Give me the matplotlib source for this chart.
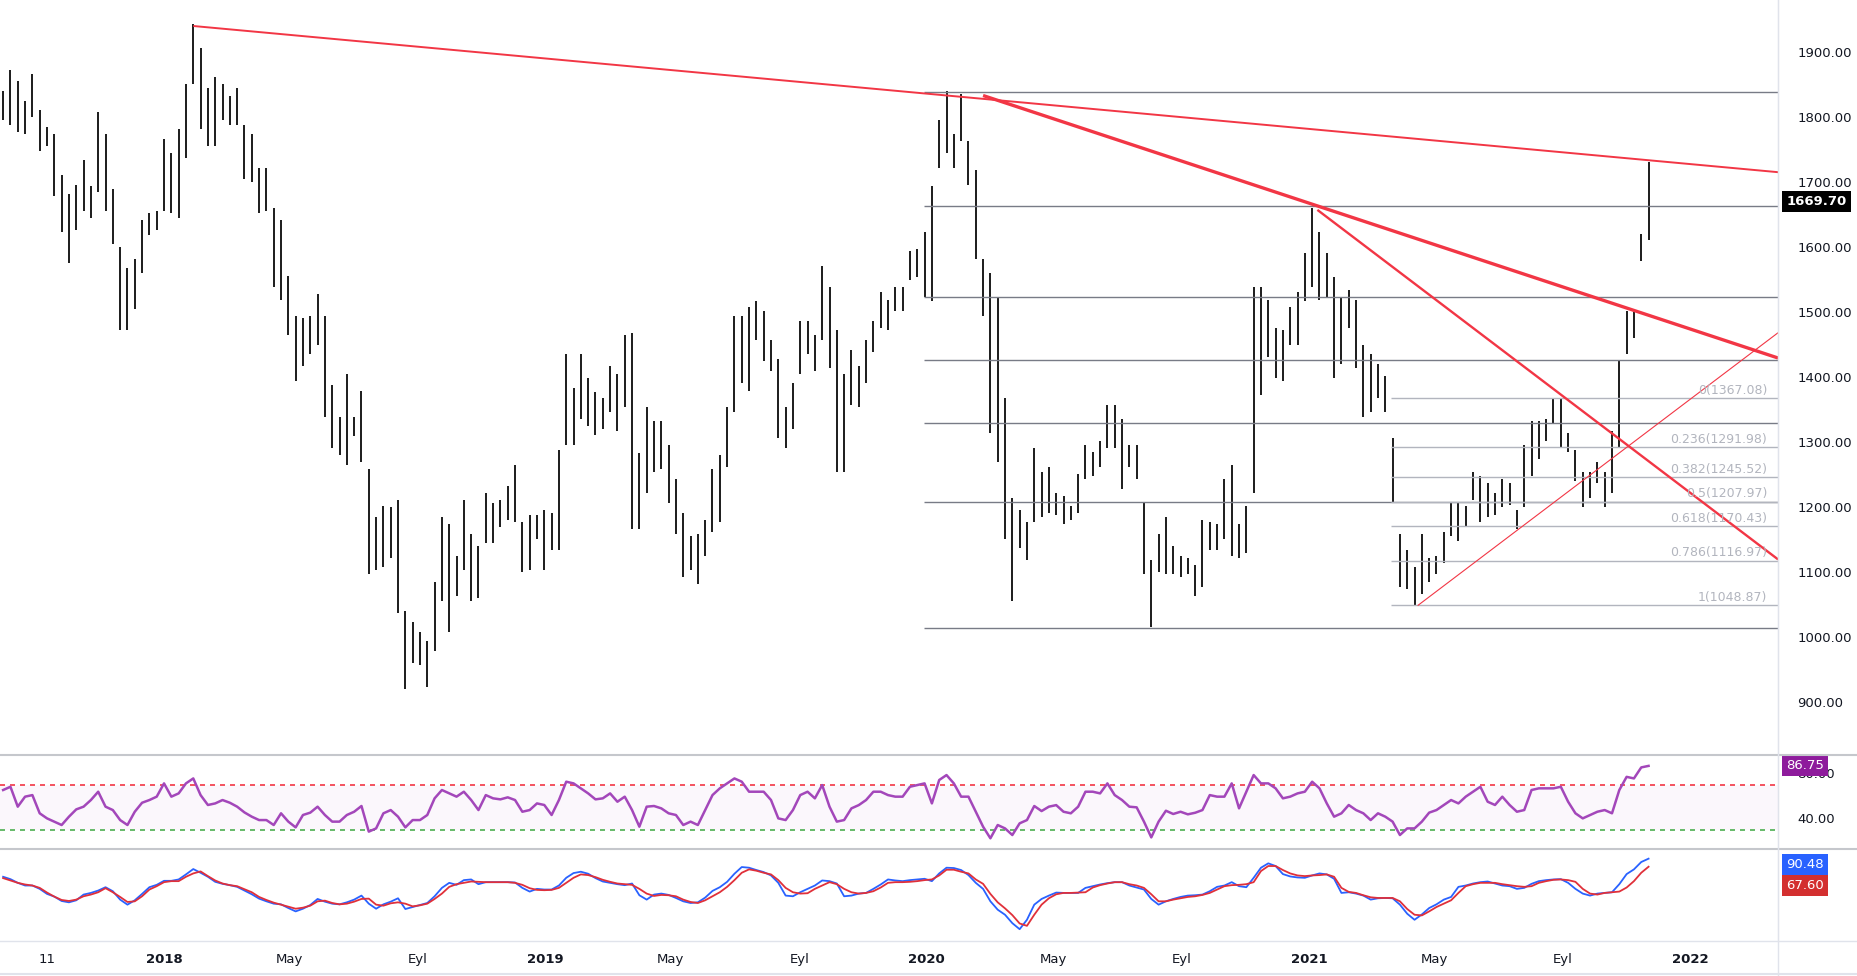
import matplotlib
matplotlib.use("Agg")
import matplotlib.pyplot as plt
import matplotlib.transforms as mtransforms
from matplotlib.lines import Line2D
from matplotlib.ticker import FuncFormatter
import pandas as pd

# weekly bars, first week starts 2017-07-31
weekStart = "2017-07-31"

highs = [1840, 1873, 1855, 1825, 1866, 1810, 1785, 1774, 1711, 1681,
         1696, 1733, 1693, 1807, 1774, 1689, 1600, 1567, 1582, 1641,
         1652, 1656, 1766, 1744, 1781, 1851, 1943, 1906, 1844, 1862,
         1851, 1833, 1844, 1788, 1774, 1722, 1722, 1660, 1641, 1556,
         1494, 1490, 1494, 1527, 1494, 1387, 1339, 1405, 1339, 1379,
         1258, 1184, 1202, 1199, 1210, 1040, 1022, 1007, 993, 1085,
         1184, 1173, 1125, 1210, 1158, 1140, 1221, 1206, 1210, 1232,
         1265, 1177, 1188, 1188, 1195, 1191, 1287, 1435, 1383, 1435,
         1398, 1376, 1368, 1416, 1405, 1464, 1468, 1283, 1354, 1332,
         1332, 1295, 1243, 1191, 1155, 1158, 1180, 1258, 1280, 1354,
         1494, 1494, 1508, 1516, 1501, 1457, 1427, 1354, 1390, 1486,
         1486, 1464, 1571, 1538, 1472, 1405, 1442, 1416, 1457, 1486,
         1531, 1519, 1538, 1538, 1593, 1597, 1623, 1693, 1796, 1840,
         1774, 1836, 1763, 1718, 1582, 1560, 1523, 1368, 1214, 1195,
         1177, 1291, 1254, 1262, 1221, 1217, 1202, 1250, 1295, 1284,
         1302, 1357, 1357, 1335, 1295, 1295, 1206, 1118, 1158, 1184,
         1140, 1125, 1121, 1110, 1180, 1177, 1173, 1243, 1265, 1173,
         1202, 1538, 1538, 1519, 1475, 1472, 1508, 1530, 1590, 1660,
         1623, 1590, 1553, 1523, 1534, 1519, 1449, 1435, 1420, 1402,
         1306, 1158, 1133, 1107, 1158, 1121, 1125, 1162, 1206, 1206,
         1202, 1254, 1247, 1236, 1221, 1243, 1236, 1195, 1295, 1332,
         1332, 1335, 1368, 1368, 1313, 1287, 1254, 1254, 1269, 1254,
         1317, 1424, 1501, 1500, 1620, 1730]

lows = [1796, 1787, 1777, 1774, 1800, 1748, 1755, 1678, 1623, 1575,
        1626, 1656, 1645, 1685, 1656, 1604, 1472, 1472, 1505, 1560,
        1619, 1626, 1656, 1652, 1645, 1737, 1851, 1781, 1755, 1755,
        1796, 1788, 1788, 1704, 1700, 1652, 1656, 1538, 1519, 1464,
        1394, 1416, 1435, 1449, 1339, 1291, 1280, 1265, 1309, 1269,
        1096, 1103, 1107, 1121, 1037, 919, 959, 956, 922, 978,
        1055, 1007, 1063, 1103, 1055, 1059, 1144, 1144, 1169, 1180,
        1177, 1100, 1103, 1151, 1103, 1133, 1133, 1295, 1295, 1335,
        1324, 1310, 1320, 1346, 1317, 1354, 1166, 1166, 1221, 1254,
        1258, 1206, 1158, 1092, 1103, 1081, 1125, 1162, 1177, 1262,
        1346, 1390, 1379, 1457, 1424, 1409, 1306, 1291, 1320, 1405,
        1435, 1409, 1457, 1413, 1254, 1254, 1357, 1354, 1390, 1438,
        1475, 1472, 1501, 1501, 1549, 1553, 1523, 1516, 1722, 1744,
        1722, 1763, 1696, 1582, 1494, 1313, 1269, 1151, 1055, 1136,
        1118, 1177, 1184, 1191, 1188, 1173, 1180, 1191, 1243, 1247,
        1262, 1291, 1291, 1228, 1262, 1243, 1096, 1015, 1099, 1096,
        1096, 1092, 1096, 1063, 1077, 1133, 1133, 1151, 1125, 1121,
        1129, 1221, 1372, 1431, 1398, 1394, 1449, 1449, 1516, 1538,
        1519, 1523, 1398, 1420, 1475, 1413, 1339, 1346, 1368, 1346,
        1206, 1077, 1074, 1048, 1066, 1085, 1096, 1114, 1155, 1147,
        1169, 1210, 1177, 1184, 1188, 1199, 1203, 1166, 1199, 1247,
        1273, 1302, 1328, 1291, 1284, 1240, 1199, 1214, 1236, 1199,
        1221, 1291, 1435, 1460, 1578, 1610]

lastPrice = 1669.70

rsi = [65.3, 68.2, 50.5, 59.4, 60.8, 44.6, 40.1, 37.2, 34.2, 41.6,
       48.1, 50.5, 56.4, 63.8, 50.5, 47.5, 38.6, 34.2, 46.0, 54.0,
       56.4, 59.4, 71.2, 59.4, 62.3, 71.2, 75.6, 60.8, 52.0, 53.4,
       56.4, 54.0, 50.5, 45.4, 41.6, 38.6, 38.6, 34.2, 44.6, 37.2,
       32.1, 43.1, 45.2, 50.5, 43.1, 37.2, 37.2, 43.1, 46.0, 51.1,
       28.3, 31.2, 44.6, 47.5, 41.6, 32.1, 38.6, 38.6, 43.1, 57.9,
       65.3, 62.3, 59.4, 63.8, 56.4, 47.5, 60.8, 57.9, 57.0, 58.8,
       56.4, 46.0, 47.5, 53.4, 52.0, 43.1, 56.4, 72.7, 71.2, 66.8,
       62.3, 57.0, 57.9, 62.3, 54.9, 59.4, 47.5, 32.7, 50.5, 51.1,
       49.0, 44.6, 43.1, 34.2, 37.2, 34.2, 47.5, 60.8, 66.8, 71.2,
       75.6, 72.7, 63.8, 63.8, 63.8, 56.4, 40.1, 38.6, 47.5, 60.8,
       63.8, 57.9, 69.7, 50.5, 37.2, 38.6, 49.0, 51.9, 56.4, 63.8,
       63.8, 60.8, 59.4, 59.4, 68.2, 69.7, 71.2, 53.4, 74.2, 78.6,
       71.2, 59.4, 59.4, 46.0, 32.7, 22.4, 34.2, 31.2, 25.3, 35.7,
       38.6, 51.1, 46.6, 50.5, 51.9, 46.0, 44.6, 50.5, 63.8, 63.8,
       62.3, 71.2, 60.8, 56.4, 50.5, 49.9, 37.2, 23.2, 37.2, 46.9,
       44.0, 46.0, 43.7, 45.1, 47.5, 60.8, 59.4, 59.4, 71.2, 49.0,
       63.8, 78.6, 71.2, 71.2, 66.8, 57.9, 59.4, 62.3, 63.8, 72.7,
       66.8, 53.4, 41.6, 44.6, 52.0, 47.5, 44.6, 38.6, 44.6, 41.6,
       37.2, 25.3, 31.2, 31.2, 37.2, 45.2, 47.5, 52.0, 56.4, 53.4,
       59.4, 63.8, 68.2, 54.9, 52.0, 59.4, 52.0, 46.0, 47.5, 65.3,
       66.8, 66.8, 66.8, 68.2, 54.9, 44.6, 40.1, 43.1, 46.0, 47.5,
       44.6, 65.3, 77.0, 75.6, 85.4, 86.75]

waveBlue = [39.1, 32.4, 21.9, 14.3, 14.3, 4.8, -9.5, -17.2, -29.6, -33.4,
            -27.6, -11.4, -6.7, 0.0, 9.5, -1.9, -25.7, -40.0, -27.6, -9.5,
            9.5, 16.2, 27.6, 27.6, 31.5, 45.8, 61.0, 50.5, 39.1, 24.8,
            19.1, 15.3, 10.5, 0.0, -10.5, -22.9, -30.5, -37.2, -39.1, -49.6,
            -59.1, -51.5, -41.0, -23.8, -31.5, -37.2, -39.1, -33.4, -25.7, -14.3,
            -37.2, -51.5, -39.1, -31.5, -21.9, -52.4, -46.7, -41.0, -35.3, -16.2,
            7.6, 21.9, 16.2, 29.6, 31.5, 18.1, 23.8, 23.8, 23.8, 23.8,
            22.9, 7.6, -2.9, 4.8, 2.9, 2.9, 14.3, 36.2, 49.6, 53.4,
            47.7, 35.3, 25.7, 21.9, 18.1, 15.3, 20.0, -13.3, -25.7, -11.4,
            -8.6, -12.4, -21.0, -30.5, -35.3, -33.4, -20.0, -1.0, 9.5, 24.8,
            47.7, 66.7, 64.8, 58.2, 52.4, 42.9, 21.9, -14.3, -16.2, -4.8,
            4.8, 14.3, 28.6, 26.7, 20.0, -16.2, -14.3, -8.6, -6.7, 4.8,
            17.2, 31.5, 28.6, 26.7, 29.6, 31.5, 33.4, 26.7, 48.6, 64.8,
            63.9, 58.2, 43.9, 21.9, 4.8, -30.5, -54.3, -68.6, -92.5, -109.6,
            -82.9, -40.0, -23.8, -14.3, -5.7, -6.7, -6.7, -6.7, 7.6, 12.4,
            17.2, 21.0, 23.8, 23.8, 14.3, 8.6, 2.9, -23.8, -40.0, -30.5,
            -23.8, -18.1, -14.3, -13.3, -11.4, -1.9, 10.5, 14.3, 23.8, 12.4,
            9.5, 36.2, 64.8, 77.2, 69.6, 46.7, 40.0, 37.2, 36.2, 42.9,
            48.6, 45.8, 33.4, -6.7, -4.8, -8.6, -14.3, -25.7, -21.9, -21.0,
            -21.9, -40.0, -65.8, -82.9, -67.7, -49.6, -39.1, -25.7, -18.1, 10.5,
            14.3, 20.0, 23.8, 25.7, 20.0, 14.3, 12.4, 4.8, 7.6, 19.1,
            26.7, 29.6, 31.5, 32.4, 21.9, 4.8, -8.6, -14.3, -8.6, -6.7,
            -4.8, 18.1, 46.7, 60.1, 81.0, 90.48]

waveRed = [35.3, 28.6, 21.9, 17.2, 14.3, 7.6, -5.7, -17.2, -26.7, -29.6,
           -25.7, -16.2, -11.4, -4.8, 6.7, -4.8, -18.1, -32.4, -30.5, -16.2,
           2.9, 12.4, 23.8, 26.7, 26.7, 39.1, 48.6, 54.3, 41.0, 28.6,
           20.0, 15.3, 12.4, 3.8, -4.8, -18.1, -26.7, -34.3, -40.0, -45.8,
           -51.5, -48.6, -42.9, -30.5, -28.6, -35.3, -39.1, -37.2, -31.5, -23.8,
           -22.9, -40.0, -42.9, -36.2, -33.4, -37.2, -44.8, -41.9, -37.2, -23.8,
           -8.6, 10.5, 18.1, 21.9, 25.7, 24.8, 23.8, 23.8, 23.8, 23.8,
           21.9, 16.2, 6.7, 1.9, 1.0, 1.9, 7.6, 21.9, 36.2, 45.8,
           43.9, 38.1, 30.5, 24.8, 20.0, 18.1, 16.2, 4.8, -8.6, -15.3,
           -12.4, -13.3, -16.2, -25.7, -32.4, -35.3, -27.6, -16.2, -4.8, 10.5,
           29.6, 50.5, 60.1, 56.3, 50.5, 45.8, 29.6, 7.6, -4.8, -8.6,
           -7.6, 4.8, 14.3, 23.8, 18.1, 4.8, -4.8, -8.6, -6.7, -1.9,
           8.6, 21.9, 23.8, 23.8, 24.8, 26.7, 29.6, 31.5, 42.9, 59.1,
           59.1, 53.4, 48.6, 31.5, 19.1, -9.5, -33.4, -50.5, -69.6, -93.4,
           -100.1, -68.6, -40.0, -21.9, -10.5, -6.7, -6.7, -5.7, -4.8, 8.6,
           15.3, 20.0, 23.8, 23.8, 18.1, 14.3, 7.6, -10.5, -30.5, -30.5,
           -25.7, -21.9, -18.1, -16.2, -12.4, -6.7, 2.9, 12.4, 15.3, 16.2,
           18.1, 23.8, 55.3, 69.6, 69.6, 58.2, 48.6, 42.9, 41.0, 42.9,
           43.9, 45.8, 39.1, 7.6, -3.8, -6.7, -13.3, -19.1, -21.0, -21.0,
           -21.0, -30.5, -52.4, -68.6, -70.5, -59.1, -46.7, -37.2, -27.6, -6.7,
           12.4, 18.1, 21.9, 21.9, 21.9, 18.1, 15.3, 12.4, 10.5, 12.4,
           21.9, 26.7, 30.5, 31.5, 29.6, 24.8, 4.8, -8.6, -11.4, -6.7,
           -4.8, -2.9, 8.6, 26.7, 50.5, 67.60]

# fib retracement 1 (levels only, no labels)
fibMainStart = "2019-12-29"
fibMainPrices = [1838.6, 1663.4, 1523.4, 1425.4, 1328.8, 1208.0, 1013.2]

# fib retracement 2 (with labels)
fibStart = "2021-03-20"
fibRatios = ["0", "0.236", "0.382", "0.5", "0.618", "0.786", "1"]
fibPrices = [1367.08, 1291.98, 1245.52, 1207.97, 1170.43, 1116.97, 1048.87]

# trend lines: two anchor points (date, price)
trendLines = [
    [("2018-01-29", 1940), ("2022-03-26", 1715)],
    [("2020-02-24", 1833), ("2022-03-26", 1429)],
    [("2021-01-09", 1657), ("2022-03-26", 1119)],
    [("2021-04-15", 1048), ("2022-03-26", 1468)],
]
trendWidths = [1.4, 2.4, 1.7, 0.8]

tickDates = ["2017-09-11", "2018-01-01", "2018-05-01", "2018-09-01", "2019-01-01",
             "2019-05-01", "2019-09-01", "2020-01-01", "2020-05-01", "2020-09-01",
             "2021-01-01", "2021-05-01", "2021-09-01", "2022-01-01"]
tickLabels = ["11", "2018", "May", "Eyl", "2019", "May", "Eyl", "2020", "May", "Eyl",
              "2021", "May", "Eyl", "2022"]

textColor = "#131722"
sepColor = "#e0e3eb"
red = "#f23645"

dates = pd.date_range(weekStart, periods=len(highs), freq="7D")

fig = plt.figure(figsize=(18.58, 9.76), dpi=100)
fig.patch.set_facecolor("white")
right = 0.957
axP = fig.add_axes([0, 0.2264, right, 0.7736])
axR = fig.add_axes([0, 0.1298, right, 0.0966], sharex=axP)
axS = fig.add_axes([0, 0.0359, right, 0.0939], sharex=axP)

fmt = FuncFormatter(lambda v, p: "%.2f" % v)
for ax in (axP, axR, axS):
    for s in ("left", "top", "bottom"):
        ax.spines[s].set_visible(False)
    ax.spines["right"].set_color(sepColor)
    ax.yaxis.tick_right()
    ax.yaxis.set_major_formatter(fmt)
    ax.tick_params(axis="y", length=0, pad=14, labelsize=9.5, labelcolor=textColor)
    ax.tick_params(axis="x", length=0)

# price panel
axP.vlines(dates, lows, highs, color="black", lw=1.25)
axP.set_ylim(818, 1980)
axP.set_yticks(range(900, 2000, 100))
axP.set_xlim(pd.Timestamp("2017-07-28"), pd.Timestamp("2022-03-26"))
xEnd = pd.Timestamp("2022-03-26")

for p in fibMainPrices:
    axP.hlines(p, pd.Timestamp(fibMainStart), xEnd, color="#787b86", lw=1)

trans = mtransforms.blended_transform_factory(axP.transAxes, axP.transData)
for r, p in zip(fibRatios, fibPrices):
    axP.hlines(p, pd.Timestamp(fibStart), xEnd, color="#b2b5be", lw=1)
    axP.text(0.9938, p + 2, "%s(%.2f)" % (r, p), transform=trans, ha="right",
             va="bottom", color="#b2b5be", fontsize=9)

for line, w in zip(trendLines, trendWidths):
    xs = [pd.Timestamp(d) for d, v in line]
    ys = [v for d, v in line]
    axP.plot(xs, ys, color=red, lw=w, solid_capstyle="butt")

axP.annotate("%.2f" % lastPrice, xy=(1.0, lastPrice), xycoords=trans,
             xytext=(6, 0), textcoords="offset points", ha="left", va="center",
             color="white", fontweight="bold", fontsize=9.5, annotation_clip=False,
             bbox=dict(boxstyle="square,pad=0.3", fc="black", ec="none"))
axP.tick_params(axis="x", labelbottom=False)

# rsi panel
axR.axhspan(30, 70, color="#9c27b0", alpha=0.035, lw=0)
axR.axhline(70, color=red, lw=1.2, ls=(0, (3, 3)))
axR.axhline(30, color="#4caf50", lw=1.2, ls=(0, (3, 3)))
axR.plot(dates[:len(rsi)], rsi, color="#a347ba", lw=1.8)
axR.set_ylim(12.6, 96.4)
axR.set_yticks([40, 80])
transR = mtransforms.blended_transform_factory(axR.transAxes, axR.transData)
axR.annotate("%.2f" % rsi[-1], xy=(1.0, rsi[-1]), xycoords=transR,
             xytext=(6, 0), textcoords="offset points", ha="left", va="center",
             color="white", fontsize=9.5, annotation_clip=False,
             bbox=dict(boxstyle="square,pad=0.3", fc="#8e1b9c", ec="none"))
axR.tick_params(axis="x", labelbottom=False)

# oscillator panel
axS.plot(dates[:len(waveBlue)], waveBlue, color="#2962ff", lw=1.3)
axS.plot(dates[:len(waveRed)], waveRed, color="#e0303a", lw=1.3)
axS.set_ylim(-143, 117)
axS.set_yticks([0])
transS = mtransforms.blended_transform_factory(axS.transAxes, axS.transData)
axS.annotate("%.2f" % waveBlue[-1], xy=(1.0, waveBlue[-1]), xycoords=transS,
             xytext=(6, -4), textcoords="offset points", ha="left", va="center",
             color="white", fontsize=9.5, annotation_clip=False,
             bbox=dict(boxstyle="square,pad=0.3", fc="#2962ff", ec="none"))
axS.annotate("%.2f" % waveRed[-1], xy=(1.0, waveBlue[-1]), xycoords=transS,
             xytext=(6, -19), textcoords="offset points", ha="left", va="center",
             color="white", fontsize=9.5, annotation_clip=False,
             bbox=dict(boxstyle="square,pad=0.3", fc="#d32f2f", ec="none"))

axS.set_xticks([pd.Timestamp(d) for d in tickDates])
axS.set_xticklabels(tickLabels)
axS.tick_params(axis="x", labelsize=9.5, labelcolor=textColor, pad=9)
for lab in axS.get_xticklabels():
    if len(lab.get_text()) == 4:
        lab.set_fontweight("bold")

# panel separators
fig.add_artist(Line2D([0, 1], [0.2264, 0.2264], color="#c5c7cc", lw=1.5, transform=fig.transFigure))
fig.add_artist(Line2D([0, 1], [0.1298, 0.1298], color="#c5c7cc", lw=1.5, transform=fig.transFigure))
fig.add_artist(Line2D([0, 1], [0.0359, 0.0359], color=sepColor, lw=1, transform=fig.transFigure))
fig.add_artist(Line2D([0, 1], [0.002, 0.002], color=sepColor, lw=1.5, transform=fig.transFigure))
fig.add_artist(Line2D([right, right], [0, 1], color=sepColor, lw=1, transform=fig.transFigure))

fig.savefig("out.png", dpi=100)
